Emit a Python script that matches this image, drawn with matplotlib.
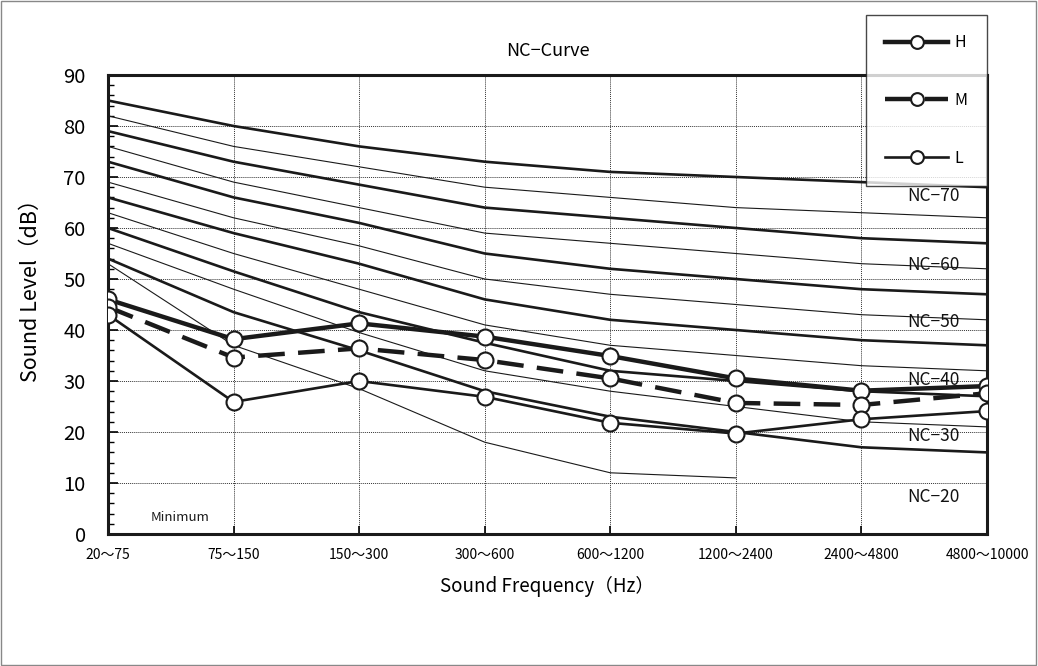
import matplotlib
matplotlib.use("Agg")
import matplotlib.pyplot as plt
from matplotlib.patches import Rectangle
from matplotlib.ticker import MultipleLocator

plt.rcParams['font.family'] = ['Noto Sans CJK JP', 'DejaVu Sans']

# ---- data ----
bands = ["20～75", "75～150", "150～300", "300～600", "600～1200",
         "1200～2400", "2400～4800", "4800～10000"]

nc70 = [85, 80, 76, 73, 71, 70, 69, 68]
nc65 = [82, 76, 72, 68, 66, 64, 63, 62]
nc60 = [79, 73, 68.5, 64, 62, 60, 58, 57]
nc55 = [76, 69, 64, 59, 57, 55, 53, 52]
nc50 = [73, 66, 61, 55, 52, 50, 48, 47]
nc45 = [69, 62, 56.5, 50, 47, 45, 43, 42]
nc40 = [66, 59, 53, 46, 42, 40, 38, 37]
nc35 = [63, 55, 48, 41, 37, 35, 33, 32]
nc30 = [60, 51.5, 43.5, 37.5, 32, 30, 28, 27]
nc25 = [57, 48, 39.5, 32, 28, 25, 22, 21]
nc20 = [54, 43.5, 36, 28, 23, 20, 17, 16]
minimum = [53, 37, 28.5, 18, 12, 11]

series_H = [46, 38.2, 41.3, 38.7, 34.9, 30.5, 28.1, 29.0]
series_M = [44.5, 34.6, 36.4, 34.1, 30.5, 25.7, 25.3, 27.6]
series_L = [43, 25.9, 30.0, 26.9, 21.8, 19.7, 22.5, 24.1]

nc_labels = ["NC−70", "NC−60", "NC−50", "NC−40", "NC−30", "NC−20"]
nc_label_y = [66.3, 52.7, 41.6, 30.2, 19.2, 7.3]

# ---- figure ----
fig = plt.figure(figsize=(10.38, 6.66), dpi=100)
fig.patches.append(Rectangle((0.001, 0.001), 0.997, 0.997, transform=fig.transFigure,
                             fill=False, edgecolor="#888888", linewidth=1.0))
ax = fig.add_axes([108/1038, 1 - 534/666, (987-108)/1038, (534-75)/666])

x = list(range(len(bands)))

thick = [nc70, nc60, nc50, nc40, nc30, nc20]
thin = [nc65, nc55, nc45, nc35, nc25]
for c in thick:
    ax.plot(x, c, color="#1a1a1a", lw=1.9, zorder=2, solid_capstyle="butt")
for c in thin:
    ax.plot(x, c, color="#1a1a1a", lw=0.8, zorder=2)
ax.plot(x[:len(minimum)], minimum, color="#1a1a1a", lw=0.8, zorder=2)

mk = dict(marker="o", markersize=11.5, markerfacecolor="white",
          markeredgecolor="#1a1a1a", markeredgewidth=1.5, color="#1a1a1a", zorder=4)
ax.plot(x, series_H, lw=3.2, label="H", **mk)
ax.plot(x, series_M, lw=3.2, dashes=(6, 3), label="M", **mk)
ax.plot(x, series_L, lw=1.9, label="L", **mk)

ax.set_xlim(0, 7)
ax.set_ylim(0, 90)
ax.set_xticks(x)
ax.set_xticklabels(bands, fontsize=10)
ax.yaxis.set_major_locator(MultipleLocator(10))
ax.yaxis.set_minor_locator(MultipleLocator(2))
ax.tick_params(axis="y", which="major", direction="in", length=7, width=1.2,
               labelsize=14.5, pad=16)
ax.tick_params(axis="y", which="minor", direction="in", length=4, width=1.0)
ax.tick_params(axis="x", which="major", direction="in", length=6, width=1.2, pad=10)

ax.grid(True, which="major", linestyle=(0, (1, 1)), color="#333333", linewidth=0.7)
for s in ax.spines.values():
    s.set_linewidth(2.2)
    s.set_color("#1a1a1a")

for lab, yv in zip(nc_labels, nc_label_y):
    ax.text(6.57, yv, lab, ha="center", va="center", fontsize=12.5, color="#111111", zorder=5)
ax.text(0.57, 3.2, "Minimum", ha="center", va="center", fontsize=9.5, color="#1a1a1a")

ax.set_title("NC−Curve", fontsize=13, pad=14)
ax.set_xlabel("Sound Frequency（Hz）", fontsize=13.5, labelpad=10)
ax.set_ylabel("Sound Level（dB）", fontsize=15.5)
ax.yaxis.set_label_coords(-0.075, 0.542)

leg = fig.legend(loc="upper right", bbox_to_anchor=(987/1038, 1 - 15/666),
                 fontsize=11.5, frameon=True, fancybox=False, handlelength=3.95,
                 labelspacing=2.55, borderpad=1.2, handletextpad=0.4,
                 borderaxespad=0.0, edgecolor="#1a1a1a", markerscale=0.8)
leg.get_frame().set_linewidth(1.0)
leg.set_zorder(10)

fig.savefig("out.png", dpi=100)
